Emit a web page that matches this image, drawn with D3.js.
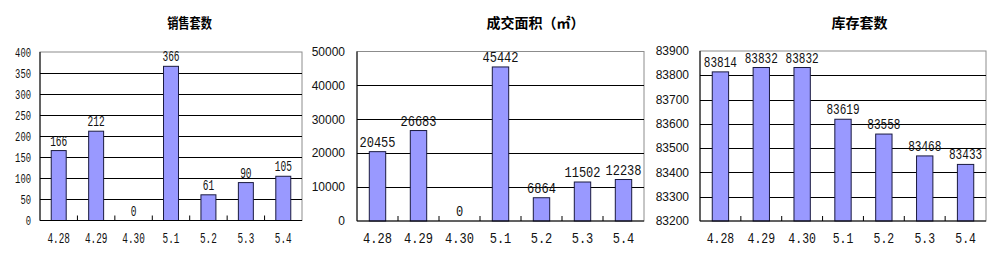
<!DOCTYPE html>
<html>
<head>
<meta charset="utf-8">
<script src="https://cdnjs.cloudflare.com/ajax/libs/d3/7.8.5/d3.min.js"></script>
<style>
  body { margin: 0; background: #fff; }
</style>
</head>
<body>
<div id="chart"></div>
<script>
// data
const dates = ["4.28", "4.29", "4.30", "5.1", "5.2", "5.3", "5.4"];
const salesUnits = [166, 212, 0, 366, 61, 90, 105];
const dealArea = [20455, 26683, 0, 45442, 6864, 11502, 12238];
const stockUnits = [83814, 83832, 83832, 83619, 83558, 83468, 83433];

const titles = ["销售套数", "成交面积（㎡）", "库存套数"];
const salesTicks = [0, 50, 100, 150, 200, 250, 300, 350, 400];
const areaTicks = [0, 10000, 20000, 30000, 40000, 50000];
const stockTicks = [83200, 83300, 83400, 83500, 83600, 83700, 83800, 83900];

// layout of the three panels (the first one is squeezed in the original)
const panels = [
  { values: salesUnits, ticks: salesTicks, title: titles[0],
    left: 40, right: 302, top: 52, bottom: 220.5, titleX: 189.5, titleSx: 0.8,
    valSx: 0.68, xSx: 0.67,
    yFont: "'Liberation Mono', monospace", ySize: 13, ySx: 0.68, yGap: 9 },
  { values: dealArea, ticks: areaTicks, title: titles[1],
    left: 357, right: 644, top: 51.5, bottom: 221, titleX: 535.5, titleSx: 1,
    valSx: 0.86, xSx: 0.86,
    yFont: "'Liberation Sans', Arial, sans-serif", ySize: 12, ySx: 1, yGap: 12 },
  { values: stockUnits, ticks: stockTicks, title: titles[2],
    left: 700, right: 986, top: 51, bottom: 221, titleX: 859.5, titleSx: 1,
    valSx: 0.79, xSx: 0.82,
    yFont: "'Liberation Sans', Arial, sans-serif", ySize: 12, ySx: 1, yGap: 11 }
];

let svg = d3.select("#chart")
            .append("svg")
            .attr("width", 1000)
            .attr("height", 267)
            .style("font-family", "'Liberation Mono', monospace");

panels.forEach(function(p) { drawPanel(p); });

////////////////// one bar chart ////////////////////////////////////

function drawPanel(p) {
  let g = svg.append("g");

  let x = d3.scaleBand()
            .domain(dates)
            .range([p.left, p.right])
            .paddingInner(0.6)
            .paddingOuter(0.3);
  let y = d3.scaleLinear()
            .domain(d3.extent(p.ticks))
            .range([p.bottom, p.top]);

  //title
  g.append("text")
   .attr("transform", `translate(${p.titleX},28) scale(${p.titleSx},1)`)
   .attr("text-anchor", "middle")
   .style("font-family", "'Noto Sans CJK SC', sans-serif")
   .style("font-weight", "bold")
   .style("font-size", "14px")
   .text(p.title);

  //frame: grey top / right
  g.append("rect")
   .attr("x", p.left)
   .attr("y", p.top)
   .attr("width", p.right - p.left)
   .attr("height", p.bottom - p.top)
   .style("fill", "none")
   .style("stroke", "#8c8c8c");

  //gridlines
  g.append("g")
   .attr("transform", `translate(${p.left},0)`)
   .call(d3.axisLeft(y).tickValues(p.ticks.slice(1, -1))
                       .tickSize(-(p.right - p.left))
                       .tickFormat(""))
   .call(function(a) { a.select(".domain").remove(); })
   .selectAll("line")
   .style("stroke", "#000")
   .attr("shape-rendering", "crispEdges");

  //y labels
  g.selectAll(".ylab")
   .data(p.ticks)
   .enter()
   .append("text")
   .attr("transform", function(d) { return `translate(${p.left - p.yGap},${y(d)}) scale(${p.ySx},1)`; })
   .attr("dy", "0.35em")
   .attr("text-anchor", "end")
   .style("font-family", p.yFont)
   .style("font-size", p.ySize + "px")
   .style("fill", "#111")
   .text(function(d) { return d; });

  //bars
  g.selectAll(".bar")
   .data(p.values)
   .enter()
   .append("rect")
   .attr("x", function(d, i) { return x(dates[i]); })
   .attr("y", function(d) { return y(Math.max(d, y.domain()[0])); })
   .attr("width", x.bandwidth())
   .attr("height", function(d) { return p.bottom - y(Math.max(d, y.domain()[0])); })
   .style("fill", "#9999ff")
   .style("stroke", "#1a1a40")
   .style("stroke-width", 1);

  //value labels
  g.selectAll(".val")
   .data(p.values)
   .enter()
   .append("text")
   .attr("transform", function(d, i) {
     return `translate(${x(dates[i]) + x.bandwidth()/2},${y(d) - 5}) scale(${p.valSx},1)`;
   })
   .attr("text-anchor", "middle")
   .style("font-size", "14px")
   .style("fill", "#111")
   .text(function(d) { return d; });

  //axes lines (black left + bottom)
  g.append("line")
   .attr("x1", p.left).attr("x2", p.left)
   .attr("y1", p.top).attr("y2", p.bottom)
   .style("stroke", "#000");
  g.append("line")
   .attr("x1", p.left).attr("x2", p.right)
   .attr("y1", p.bottom).attr("y2", p.bottom)
   .style("stroke", "#000");

  //small inward ticks between categories
  let step = x.step();
  g.selectAll(".tick-x")
   .data(d3.range(1, dates.length))
   .enter()
   .append("line")
   .attr("x1", function(i) { return p.left + i*step; })
   .attr("x2", function(i) { return p.left + i*step; })
   .attr("y1", p.bottom)
   .attr("y2", p.bottom - 5)
   .style("stroke", "#000");

  //x labels
  g.selectAll(".xlab")
   .data(dates)
   .enter()
   .append("text")
   .attr("transform", function(d) { return `translate(${x(d) + x.bandwidth()/2},243) scale(${p.xSx},1)`; })
   .attr("text-anchor", "middle")
   .style("font-size", "14px")
   .style("fill", "#111")
   .text(function(d) { return d; });
}
</script>
</body>
</html>
